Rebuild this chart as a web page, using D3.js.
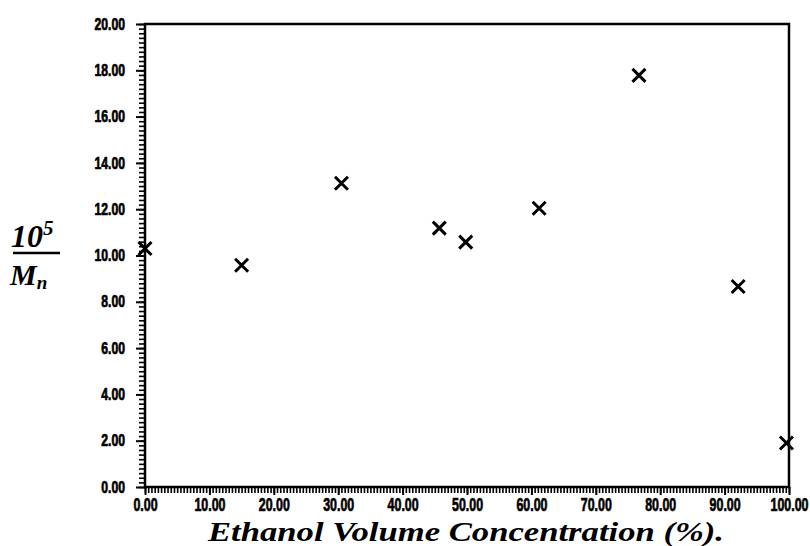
<!DOCTYPE html>
<html><head><meta charset="utf-8">
<script src="https://cdn.jsdelivr.net/npm/d3@7"></script>
<style>
body{margin:0;background:#fff;}
.tick text{font-family:"Liberation Sans",Arial,sans-serif;font-weight:bold;stroke:#000;stroke-width:0.7px;}
</style></head>
<body><svg id="c" width="810" height="546"></svg>
<script>
const ethanol = [0, 15, 30.5, 45.7, 49.8, 61.2, 76.7, 92.1, 99.6];
const invMn   = [10.3, 9.58, 13.12, 11.18, 10.58, 12.04, 17.78, 8.66, 1.9];
const xTicks = [0,10,20,30,40,50,60,70,80,90,100];
const yTicks = [0,2,4,6,8,10,12,14,16,18,20];
const xTitle = "Ethanol Volume Concentration (%).";

const svg = d3.select("#c");
const L=145, R=789, T=24, B=487;
const x = d3.scaleLinear().domain([0,100]).range([L,R]);
const y = d3.scaleLinear().domain([0,20]).range([B,T]);

// frame
svg.append("rect").attr("x",L).attr("y",T).attr("width",R-L).attr("height",B-T)
  .attr("fill","none").attr("stroke","#000").attr("stroke-width",2.5);

// minor ticks
svg.append("g").attr("transform",`translate(${L},0)`)
  .call(d3.axisLeft(y).tickValues(d3.range(0,20.001,0.2)).tickSize(6).tickFormat(""))
  .call(g=>{g.select(".domain").remove();g.selectAll("line").attr("stroke-width",1.6);});
svg.append("g").attr("transform",`translate(0,${B})`)
  .call(d3.axisBottom(x).tickValues(d3.range(0,100.001,0.5)).tickSize(6).tickFormat(""))
  .call(g=>{g.select(".domain").remove();g.selectAll("line").attr("stroke-width",1.6);});

// major ticks
const sy=0.76, sxx=0.69;
const yAx = svg.append("g").attr("transform",`translate(${L},0)`)
  .call(d3.axisLeft(y).tickValues(yTicks).tickSize(9).tickPadding(11).tickFormat(d3.format(".2f")));
yAx.select(".domain").remove();
yAx.selectAll("line").attr("stroke-width",2);
yAx.selectAll("text").attr("font-size",16).attr("fill","#000")
  .each(function(){const t=d3.select(this);t.attr("x",(+t.attr("x"))/sy).attr("transform",`scale(${sy},1)`);});

const xAx = svg.append("g").attr("transform",`translate(0,${B})`)
  .call(d3.axisBottom(x).tickValues(xTicks).tickSize(8).tickPadding(3).tickFormat(d3.format(".2f")));
xAx.select(".domain").remove();
xAx.selectAll("line").attr("stroke-width",2);
xAx.selectAll("text").attr("font-size",18).attr("fill","#000").attr("transform",`scale(${sxx},1)`);

// markers
const s=6.5;
const pts = svg.append("g");
ethanol.forEach((e,i)=>{
  const cx=x(e), cy=y(invMn[i]);
  pts.append("path").attr("d",`M${cx-s},${cy-s}L${cx+s},${cy+s}M${cx-s},${cy+s}L${cx+s},${cy-s}`)
    .attr("stroke","#000").attr("stroke-width",3).attr("fill","none");
});

const f="'Liberation Serif','Times New Roman',serif";
// x title
svg.append("text").attr("x",466).attr("y",541).attr("text-anchor","middle")
  .attr("font-family",f).attr("font-weight","bold")
  .attr("font-style","italic").attr("font-size",28)
  .attr("textLength",516).attr("lengthAdjust","spacingAndGlyphs").text(xTitle);

// y label fraction
const num = svg.append("text").attr("x",11).attr("y",247).attr("font-family",f)
  .attr("font-weight","bold").attr("font-style","italic").attr("font-size",32);
num.append("tspan").text("10");
num.append("tspan").attr("font-size",21).attr("dy",-12).text("5");
svg.append("line").attr("x1",13).attr("x2",60).attr("y1",253).attr("y2",253)
  .attr("stroke","#000").attr("stroke-width",2.5);
const den = svg.append("text").attr("x",10).attr("y",285).attr("font-family",f)
  .attr("font-weight","bold").attr("font-style","italic").attr("font-size",30);
den.append("tspan").text("M");
den.append("tspan").attr("font-size",19).attr("dy",4).text("n");
</script></body></html>
